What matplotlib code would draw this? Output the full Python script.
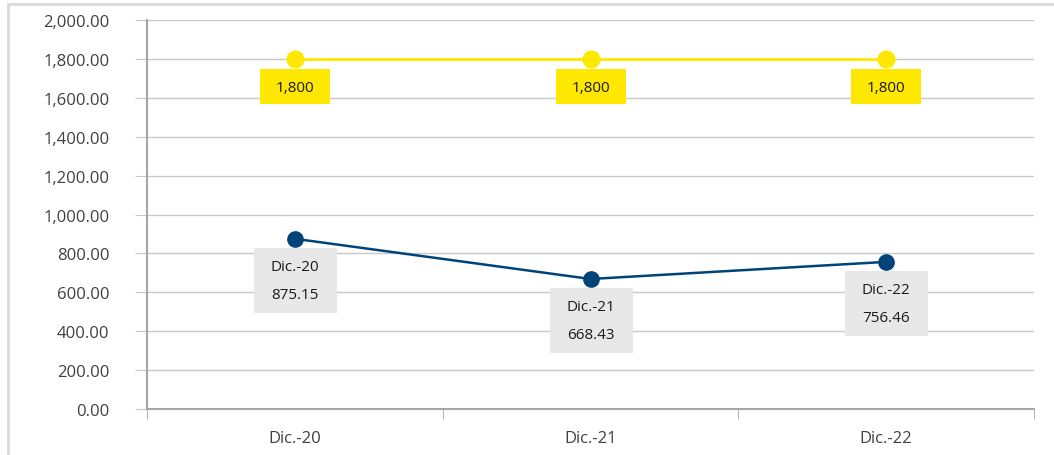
import matplotlib
matplotlib.use("Agg")
import matplotlib.pyplot as plt
from matplotlib.patches import Rectangle
from matplotlib.transforms import ScaledTranslation
from matplotlib.ticker import FuncFormatter

plt.rcParams['font.family'] = ['Open Sans', 'DejaVu Sans']

categorias = ["Dic.-20", "Dic.-21", "Dic.-22"]
valores = [875.15, 668.43, 756.46]
meta = [1800, 1800, 1800]

azul = "#004379"
amarillo = "#ffe800"
gris_caja = "#e8e8e8"

fig = plt.figure(figsize=(10.54, 4.56), dpi=100)
ax = fig.add_axes([147/1054, 1 - 410/456, (1034-147)/1054, (410-21)/456])

# borde exterior del grafico
fig.patches.append(Rectangle((8/1054, -0.1), 1.2, (451/456) + 0.1, transform=fig.transFigure,
                             fill=False, edgecolor="#d9d9d9", linewidth=2, zorder=0))

x = range(len(categorias))
ax.plot(x, meta, color=amarillo, linewidth=2, marker="o", markersize=12, zorder=3)
ax.plot(x, valores, color=azul, linewidth=1.8, marker="o", markersize=11, zorder=3)


def caja(i, v, dx0, dx1, dy0, dy1, color):
    # caja en pixeles relativa al punto (i, v)
    tr = fig.dpi_scale_trans + ScaledTranslation(i, v, ax.transData)
    r = Rectangle((dx0/100, -dy1/100), (dx1-dx0)/100, (dy1-dy0)/100, transform=tr,
                  facecolor=color, edgecolor="none", zorder=4, clip_on=False)
    ax.add_patch(r)
    return tr


for i, v in enumerate(meta):
    tr = caja(i, v, -35, 35, 10, 45, amarillo)
    ax.text(0, -0.29, f"{v:,.0f}", transform=tr, ha="center", va="center",
            fontsize=11, color="#1a1a1a", zorder=5)

for i, v in enumerate(valores):
    tr = caja(i, v, -41, 42, 9, 74, gris_caja)
    ax.text(0, -0.28, categorias[i], transform=tr, ha="center", va="center",
            fontsize=11, color="#1a1a1a", zorder=5)
    ax.text(0, -0.56, f"{v:,.2f}", transform=tr, ha="center", va="center",
            fontsize=11, color="#1a1a1a", zorder=5)

ax.set_xlim(-0.5, 2.5)
ax.set_ylim(0, 2000)
ax.set_yticks(range(0, 2001, 200))
ax.yaxis.set_major_formatter(FuncFormatter(lambda v, p: f"{v:,.2f}"))
ax.set_xticks(x)
ax.set_xticklabels(categorias)
ax.set_xticks([-0.5, 0.5, 1.5, 2.5], minor=True)
ax.tick_params(axis="x", which="major", length=0, pad=15, labelsize=12, labelcolor="#404040")
ax.tick_params(axis="x", which="minor", length=7, color="#a6a6a6")
ax.tick_params(axis="y", length=9, color="#c8c8c8", labelsize=12, labelcolor="#404040", pad=18)

ax.grid(axis="y", color="#c8c8c8", linewidth=1)
ax.set_axisbelow(True)
for s in ["top", "right"]:
    ax.spines[s].set_visible(False)
ax.spines["left"].set_color("#a6a6a6")
ax.spines["left"].set_linewidth(1.5)
ax.spines["bottom"].set_color("#a6a6a6")
ax.spines["bottom"].set_linewidth(1.5)

fig.savefig("out.png", dpi=100)
